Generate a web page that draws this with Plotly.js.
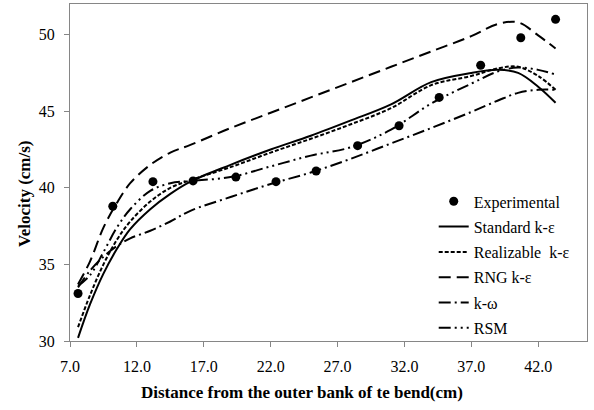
<!DOCTYPE html>
<html>
<head>
<meta charset="utf-8">
<script src="https://cdn.plot.ly/plotly-3.0.1.min.js"></script>
<style>html,body{margin:0;padding:0;background:#fff;}#chart{width:594px;height:410px;}</style>
</head>
<body>
<div id="chart"></div>
<script>
// Experimental measurements
const expX = [7.6, 10.2, 13.2, 16.2, 19.4, 22.4, 25.4, 28.5, 31.6, 34.6, 37.7, 40.7, 43.3];
const expY = [33.1, 38.8, 40.4, 40.45, 40.7, 40.4, 41.1, 42.75, 44.05, 45.9, 48.0, 49.8, 51.0];

// Model curves (shared x grid)
const modelX = [7.6, 8.5, 9.5, 10.5, 11.5, 13, 14.5, 16, 19, 22, 25, 28, 31, 34, 37, 39, 40.5, 42, 43.3];
const standardKE   = [30.2, 32.4, 34.4, 36.0, 37.3, 38.6, 39.6, 40.4, 41.5, 42.5, 43.4, 44.4, 45.45, 46.9, 47.5, 47.7, 47.5, 46.6, 45.55];
const realizableKE = [30.9, 33.0, 35.0, 36.6, 37.8, 39.1, 40.0, 40.5, 41.35, 42.3, 43.2, 44.15, 45.2, 46.7, 47.3, 47.8, 47.9, 47.3, 46.4];
const rngKE        = [33.7, 35.2, 37.4, 39.0, 40.3, 41.5, 42.3, 42.8, 43.9, 44.9, 45.9, 46.9, 47.9, 48.9, 49.9, 50.7, 50.8, 49.95, 49.1];
const kOmega       = [33.5, 34.6, 35.5, 36.2, 36.7, 37.2, 37.8, 38.5, 39.4, 40.25, 41.0, 41.9, 42.9, 43.9, 44.95, 45.7, 46.2, 46.4, 46.4];
const rsm          = [33.6, 34.3, 35.8, 37.4, 38.6, 39.8, 40.3, 40.45, 40.7, 41.4, 42.1, 42.65, 43.8, 45.5, 46.8, 47.6, 47.85, 47.7, 47.4];

const seriesNames = ["Experimental", "Standard k-ε", "Realizable  k-ε", "RNG k-ε", "k-ω", "RSM"];
const xTickVals = [7, 12, 17, 22, 27, 32, 37, 42];
const xTickText = ["7.0", "12.0", "17.0", "22.0", "27.0", "32.0", "37.0", "42.0"];
const yTickVals = [30, 35, 40, 45, 50];

const serif = "'Liberation Serif', 'Times New Roman', serif";

function lineTrace(y, name, dash, grp) {
  return {
    x: modelX, y: y, name: name, mode: "lines", type: "scatter",
    legendgroup: grp,
    line: {color: "#000", width: 2, dash: dash, shape: "spline", smoothing: 1}
  };
}

const traces = [
  {x: expX, y: expY, name: seriesNames[0], mode: "markers", type: "scatter", legendgroup: "g0",
   marker: {color: "#000", size: 9, symbol: "circle"}},
  lineTrace(standardKE, seriesNames[1], "solid", "g1"),
  lineTrace(realizableKE, seriesNames[2], "4px,2px", "g2"),
  lineTrace(rngKE, seriesNames[3], "12px,6px", "g3"),
  lineTrace(kOmega, seriesNames[4], "12px,4px,2px,4px", "g4"),
  lineTrace(rsm, seriesNames[5], "12px,4px,2px,4px,2px,4px", "g5")
];

const layout = {
  width: 594, height: 410,
  margin: {l: 70, r: 7, t: 4, b: 69},
  paper_bgcolor: "#fff", plot_bgcolor: "#fff",
  font: {family: serif, size: 16, color: "#000"},
  showlegend: true,
  legend: {
    x: 0.7035, y: 0.4647, xanchor: "left", yanchor: "top",
    bgcolor: "rgba(0,0,0,0)", borderwidth: 0,
    font: {family: serif, size: 16, color: "#000"},
    traceorder: "grouped", tracegroupgap: 1.5
  },
  xaxis: {
    range: [7, 45.65], tickvals: xTickVals, ticktext: xTickText,
    ticks: "outside", ticklen: 5, tickcolor: "#868686", tickwidth: 1,
    ticklabelstandoff: 6,
    showline: true, linecolor: "#868686", linewidth: 1, mirror: true,
    showgrid: false, zeroline: false,
    tickfont: {family: serif, size: 16, color: "#000"}
  },
  yaxis: {
    range: [30, 52], tickvals: yTickVals,
    ticks: "outside", ticklen: 5, tickcolor: "#868686", tickwidth: 1,
    ticklabelstandoff: 6,
    showline: true, linecolor: "#868686", linewidth: 1, mirror: true,
    showgrid: false, zeroline: false,
    tickfont: {family: serif, size: 16, color: "#000"}
  },
  annotations: [
    {text: "<b>Distance from the outer bank of te bend(cm)</b>", xref: "paper", yref: "paper",
     x: (302 - 70) / 517, y: -(392 - 341) / 337, xanchor: "center", yanchor: "middle",
     showarrow: false, font: {family: serif, size: 17, color: "#000"}},
    {text: "<b>Velocity (cm/s)</b>", xref: "paper", yref: "paper",
     x: -(70 - 25) / 517, y: (341 - 194) / 337, xanchor: "center", yanchor: "middle",
     textangle: -90, showarrow: false, font: {family: serif, size: 17, color: "#000"}}
  ]
};

Plotly.newPlot("chart", traces, layout, {staticPlot: true, displayModeBar: false});
</script>
</body>
</html>
